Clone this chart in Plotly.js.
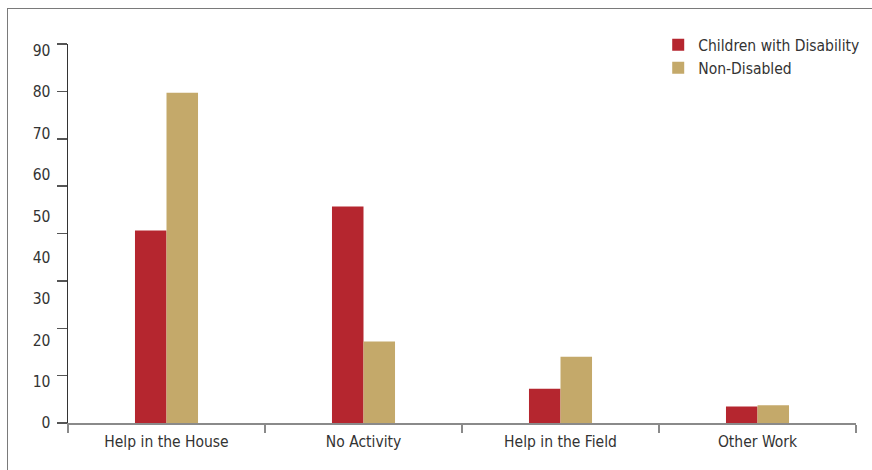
<!DOCTYPE html>
<html>
<head>
<meta charset="utf-8">
<script src="https://cdn.plot.ly/plotly-3.0.1.min.js"></script>
<style>
  html, body { margin: 0; padding: 0; background: #ffffff; overflow: hidden; }
  #frame { position: absolute; left: 7px; top: 8px; width: 900px; height: 500px;
           border-left: 1.5px solid #7a7a7a; border-top: 1.5px solid #7a7a7a; }
  #chart { position: absolute; left: 0; top: 0; width: 872px; height: 470px; }
</style>
</head>
<body>
<div id="frame"></div>
<div id="chart"></div>
<script>
const categories = ["Help in the House", "No Activity", "Help in the Field", "Other Work"];
const disabled = [46.5, 52.3, 8.3, 4.0];
const nonDisabled = [79.8, 19.7, 16.0, 4.3];
const seriesNames = ["Children with Disability", "Non-Disabled"];
const yTickLabels = [0, 10, 20, 30, 40, 50, 60, 70, 80, 90];

const FONT = "'DejaVu Sans Condensed', 'Liberation Sans Narrow', sans-serif";
const FS = 15.5;
const yMax = 91.6;
const markTicks = [];
for (let i = 0; i <= 8; i++) markTicks.push(yMax * i / 8);

const traces = [
  { type: "bar", name: seriesNames[0], x: categories, y: disabled,
    marker: { color: "#b5262f" }, legendgroup: "a", hoverinfo: "x+y" },
  { type: "bar", name: seriesNames[1], x: categories, y: nonDisabled,
    marker: { color: "#c4a96a" }, legendgroup: "b", hoverinfo: "x+y" },
  { type: "scatter", x: [], y: [], yaxis: "y2", showlegend: false, hoverinfo: "skip" }
];

const layout = {
  width: 872, height: 470,
  margin: { l: 68, r: 16, t: 44, b: 47, autoexpand: false },
  paper_bgcolor: "rgba(0,0,0,0)",
  plot_bgcolor: "rgba(0,0,0,0)",
  font: { family: FONT, size: FS, color: "#333333" },
  barmode: "group",
  bargap: 0.68,
  bargroupgap: 0,
  showlegend: true,
  legend: {
    x: 0.749, xanchor: "left", y: 1.042, yanchor: "top",
    bgcolor: "rgba(0,0,0,0)", font: { family: FONT, size: FS, color: "#333333" },
    tracegroupgap: 10, traceorder: "normal"
  },
  xaxis: {
    type: "category", automargin: false,
    showline: true, linecolor: "#8a8a8a", linewidth: 2,
    ticks: "outside", tickson: "boundaries", ticklen: 8, tickwidth: 2, tickcolor: "#8a8a8a",
    ticklabelstandoff: 3,
    showgrid: false, zeroline: false,
    tickfont: { family: FONT, size: FS, color: "#333333" }
  },
  yaxis: {
    range: [0, yMax], fixedrange: true, automargin: false,
    showline: true, linecolor: "#333333", linewidth: 1.5,
    tickmode: "array", tickvals: yTickLabels, ticktext: yTickLabels.map(String),
    ticks: "outside", ticklen: 10, tickcolor: "rgba(0,0,0,0)",
    ticklabelstandoff: 3,
    showgrid: false, zeroline: false,
    tickfont: { family: FONT, size: FS, color: "#333333" }
  },
  yaxis2: {
    range: [0, yMax], overlaying: "y", side: "left", anchor: "x", automargin: false,
    tickmode: "array", tickvals: markTicks,
    ticks: "outside", ticklen: 10, tickwidth: 1.5, tickcolor: "#555555",
    showticklabels: false, showgrid: false, zeroline: false, showline: false
  }
};

Plotly.newPlot("chart", traces, layout, { displayModeBar: false, staticPlot: true });
</script>
</body>
</html>
